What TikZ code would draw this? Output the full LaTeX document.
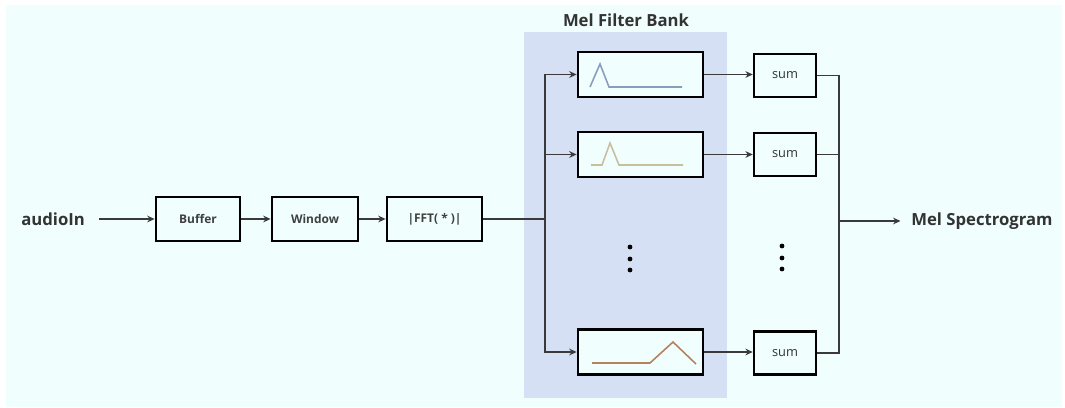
\documentclass[tikz,border=0pt]{standalone}
\usepackage{fontspec}
\setmainfont{Open Sans}
\usetikzlibrary{arrows.meta, positioning, calc}

\definecolor{bgcyan}{HTML}{F0FEFE}
\definecolor{bankblue}{HTML}{D6E0F4}
\definecolor{wiregray}{HTML}{3A3A3A}
\definecolor{peakA}{HTML}{8A9DBA}
\definecolor{peakB}{HTML}{C9BE9E}
\definecolor{peakC}{HTML}{B5825F}

\begin{document}
\begin{tikzpicture}[
    x=0.02cm, y=-0.02cm,
    >={Stealth[length=4.2pt, width=3.8pt]},
    blockbox/.style={draw, line width=1.6pt, fill=bgcyan, minimum height=0.88cm, inner sep=0pt, font=\fontsize{6.8}{7}\selectfont\bfseries, text=black!75},
    filterbox/.style={draw, line width=1.6pt, fill=bgcyan, minimum width=2.5cm, minimum height=0.9cm, inner sep=0pt},
    sumbox/.style={draw, line width=1.4pt, fill=bgcyan, minimum width=1.24cm, minimum height=0.86cm, inner sep=0pt, font=\fontsize{7.3}{8}\selectfont, text=black!80},
    iolabel/.style={font=\fontsize{9.5}{10}\selectfont\bfseries, text=black!80, inner sep=0pt},
    wire/.style={draw=wiregray, line width=1pt},
    curve/.style={line width=0.9pt},
  ]

  \useasboundingbox (0,0) rectangle (1065,408);
  \fill[bgcyan] (6,5) rectangle (1062,407);

  % Mel filter bank area
  \node[fill=bankblue, minimum width=4.06cm, minimum height=7.32cm, inner sep=0pt] (bank) at (625.5,215) {};
  \node[iolabel] (banktitle) at (626,20) {Mel Filter Bank};

  % input chain
  \node[iolabel, anchor=west] (audio) at (21,219) {audioIn};
  \node[blockbox, minimum width=1.68cm] (buffer) at (198,219) {Buffer};
  \node[blockbox, minimum width=1.72cm] (window) at (315,219) {Window};
  \node[blockbox, minimum width=1.9cm] (fft) at (434.5,219) {|FFT( * )|};

  \draw[wire, ->, shorten <=8pt] (audio.east) -- (buffer);
  \draw[wire, ->] (buffer) -- (window);
  \draw[wire, ->] (window) -- (fft);

  % filters
  \node[filterbox] (f1) at (640.5,74.5) {};
  \node[filterbox] (f2) at (640.5,154.5) {};
  \node[filterbox] (f3) at (640.5,352) {};

  \draw[curve, peakA] (590,87) -- (600,64) -- (609,87) -- (682,87);
  \draw[curve, peakB] (591,165) -- (602,165) -- (610,143) -- (619,165) -- (683,165);
  \draw[curve, peakC] (592,363) -- (650,363) -- (673,342) -- (696,364);

  \coordinate (split) at (545,219);
  \draw[wire] (fft.east) -- (split);
  \draw[wire, ->] (split) |- (f1.west);
  \draw[wire, ->] (split |- f2.west) -- (f2.west);
  \draw[wire, ->] (split) |- (f3.west);

  \foreach \dy in {247,259,270}
    \fill (630,\dy) circle (2.4);

  % sums
  \node[sumbox] (s1) at (785,75.5) {sum};
  \node[sumbox] (s2) at (785,154.5) {sum};
  \node[sumbox] (s3) at (785,353) {sum};

  \draw[wire, ->] (f1.east) -- (f1.east -| s1.west);
  \draw[wire, ->] (f2.east) -- (f2.east -| s2.west);
  \draw[wire, ->] (f3.east) -- (f3.east -| s3.west);

  \foreach \dy in {246,258,269}
    \fill (782,\dy) circle (2.4);

  % output
  \node[iolabel, anchor=west] (out) at (911,221) {Mel Spectrogram};
  \coordinate (merge) at (839,221);
  \draw[wire] (s1.east) -| (merge);
  \draw[wire] (s3.east) -| (merge);
  \draw[wire] (s2.east) -- (s2.east -| merge);
  \draw[wire, ->, shorten >=6pt] (merge) -- (out.west);

\end{tikzpicture}
\end{document}
